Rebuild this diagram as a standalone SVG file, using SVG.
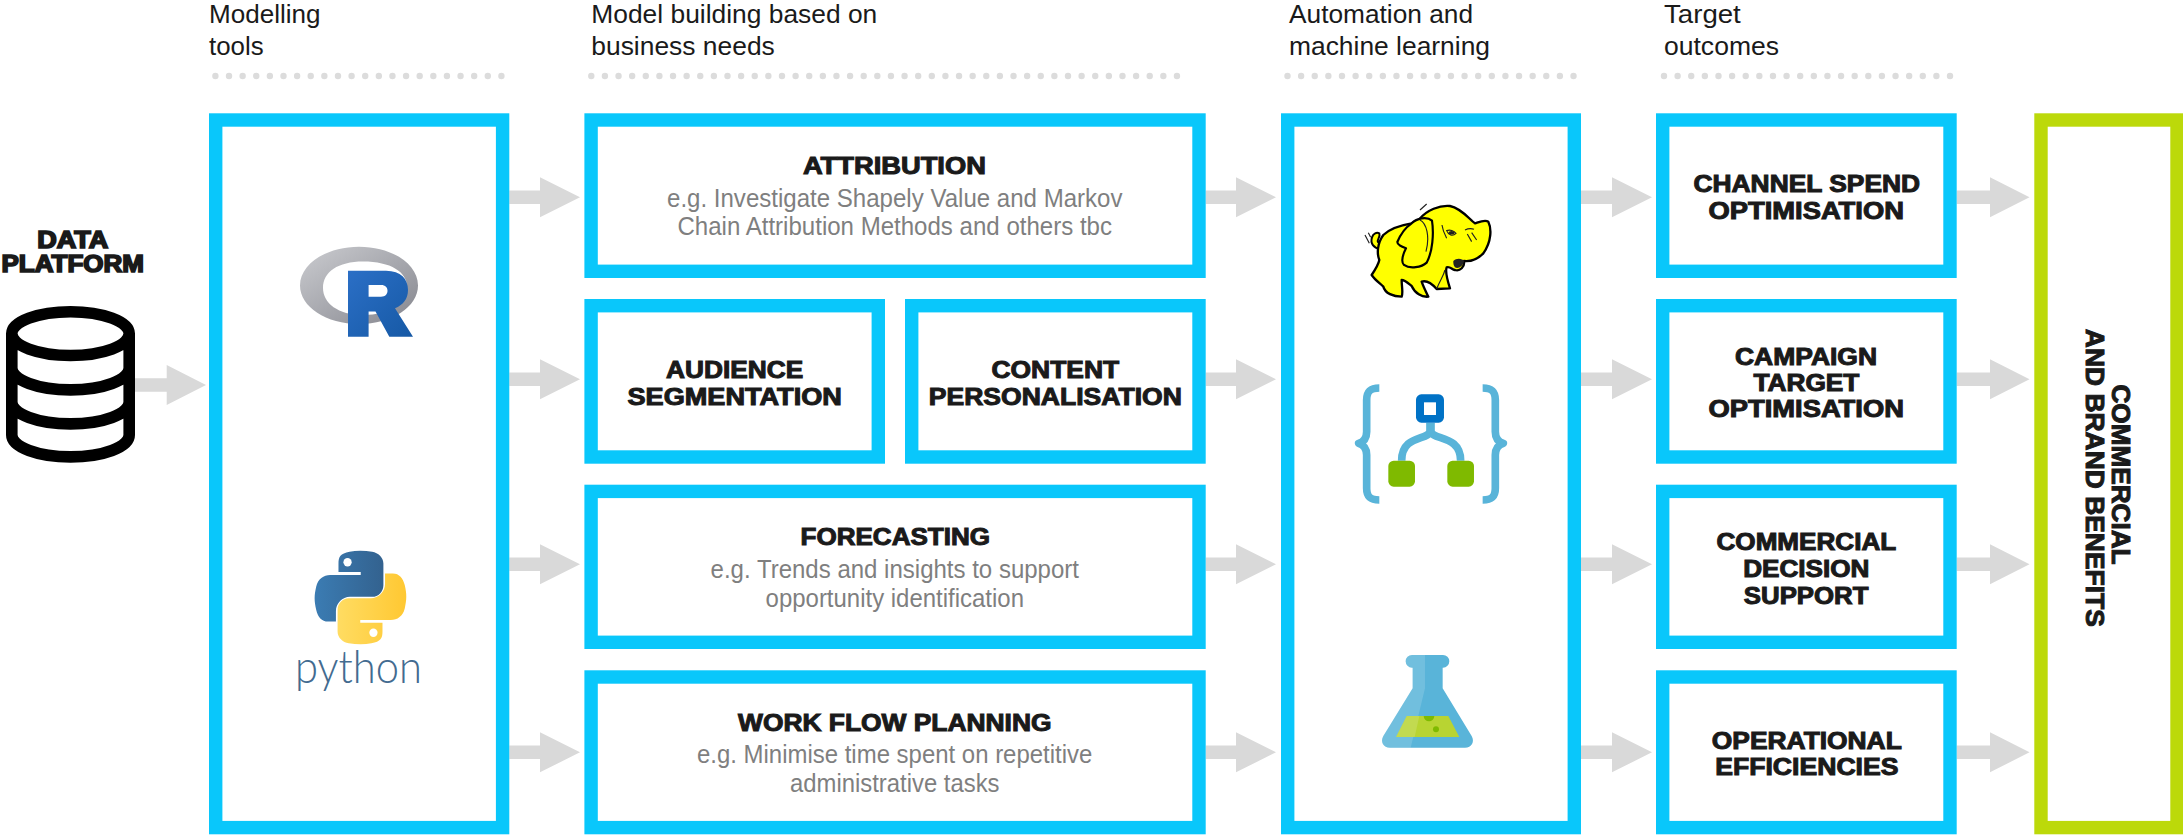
<svg xmlns="http://www.w3.org/2000/svg" width="2183" height="835" viewBox="0 0 2183 835">
<style>
text{font-family:"Liberation Sans",Arial,sans-serif}
.box{fill:#fff;stroke:#09c7fb;stroke-width:13.4}
.gbox{fill:#fff;stroke:#bcd90a;stroke-width:13.4}
.arrow{fill:#d9d9d9}
.dots{stroke:#dcdcdc;stroke-width:6.4;stroke-linecap:round;stroke-dasharray:0 13.62;fill:none}
.hd{font-size:26.5px;fill:#1a1a1a}
.t{font-size:23.2px;font-weight:700;fill:#1a1a1a;stroke:#1a1a1a;stroke-width:1}
.s{font-size:25px;fill:#7f7f7f}
</style>
<defs>
<linearGradient id="rg" x1="0" y1="0" x2="1" y2="1"><stop offset="0" stop-color="#cbccd0"/><stop offset="1" stop-color="#85868e"/></linearGradient>
<linearGradient id="rb" x1="0" y1="0" x2="1" y2="1"><stop offset="0" stop-color="#2b6fc6"/><stop offset="1" stop-color="#1659a5"/></linearGradient>
<linearGradient id="py" x1="0" y1="0" x2="1" y2="0"><stop offset="0" stop-color="#3b7cb3"/><stop offset="1" stop-color="#33628f"/></linearGradient>
<linearGradient id="pyy" x1="0" y1="0" x2="1" y2="0"><stop offset="0" stop-color="#ffc832"/><stop offset="1" stop-color="#ffdc62"/></linearGradient>
</defs>
<rect width="2183" height="835" fill="#fff"/>

<g id="headers">
<text class="hd" x="209" y="22.7" textLength="111.5" lengthAdjust="spacingAndGlyphs">Modelling</text>
<text class="hd" x="209" y="55" textLength="54.6" lengthAdjust="spacingAndGlyphs">tools</text>
<path class="dots" d="M215.4 76H502"/>
<text class="hd" x="591.3" y="22.7" textLength="286" lengthAdjust="spacingAndGlyphs">Model building based on</text>
<text class="hd" x="591.3" y="55" textLength="183.5" lengthAdjust="spacingAndGlyphs">business needs</text>
<path class="dots" d="M591.3 76H1190.5"/>
<text class="hd" x="1289" y="22.7" textLength="184" lengthAdjust="spacingAndGlyphs">Automation and</text>
<text class="hd" x="1289" y="55" textLength="201" lengthAdjust="spacingAndGlyphs">machine learning</text>
<path class="dots" d="M1287.5 76H1574"/>
<text class="hd" x="1664" y="22.7" textLength="76.8" lengthAdjust="spacingAndGlyphs">Target</text>
<text class="hd" x="1664" y="55" textLength="115" lengthAdjust="spacingAndGlyphs">outcomes</text>
<path class="dots" d="M1664 76H1950.5"/>
</g>

<g id="connectors">
<polygon class="arrow" points="135,378.3 166.7,378.3 166.7,365 206,385 166.7,405 166.7,391.7 135,391.7"/>
<polygon class="arrow" points="509.3,190.6 540,190.6 540,177.3 580,197.3 540,217.3 540,204 509.3,204"/>
<polygon class="arrow" points="509.3,372.6 540,372.6 540,359.3 580,379.3 540,399.3 540,386 509.3,386"/>
<polygon class="arrow" points="509.3,557.6 540,557.6 540,544.3 580,564.3 540,584.3 540,571 509.3,571"/>
<polygon class="arrow" points="509.3,745.6 540,745.6 540,732.3 580,752.3 540,772.3 540,759 509.3,759"/>
<polygon class="arrow" points="1205.7,190.6 1236,190.6 1236,177.3 1276,197.3 1236,217.3 1236,204 1205.7,204"/>
<polygon class="arrow" points="1205.7,372.6 1236,372.6 1236,359.3 1276,379.3 1236,399.3 1236,386 1205.7,386"/>
<polygon class="arrow" points="1205.7,557.6 1236,557.6 1236,544.3 1276,564.3 1236,584.3 1236,571 1205.7,571"/>
<polygon class="arrow" points="1205.7,745.6 1236,745.6 1236,732.3 1276,752.3 1236,772.3 1236,759 1205.7,759"/>
<polygon class="arrow" points="1581,190.6 1612,190.6 1612,177.3 1652,197.3 1612,217.3 1612,204 1581,204"/>
<polygon class="arrow" points="1581,372.6 1612,372.6 1612,359.3 1652,379.3 1612,399.3 1612,386 1581,386"/>
<polygon class="arrow" points="1581,557.6 1612,557.6 1612,544.3 1652,564.3 1612,584.3 1612,571 1581,571"/>
<polygon class="arrow" points="1581,745.6 1612,745.6 1612,732.3 1652,752.3 1612,772.3 1612,759 1581,759"/>
<polygon class="arrow" points="1956.7,190.6 1990,190.6 1990,177.3 2029.5,197.3 1990,217.3 1990,204 1956.7,204"/>
<polygon class="arrow" points="1956.7,372.6 1990,372.6 1990,359.3 2029.5,379.3 1990,399.3 1990,386 1956.7,386"/>
<polygon class="arrow" points="1956.7,557.6 1990,557.6 1990,544.3 2029.5,564.3 1990,584.3 1990,571 1956.7,571"/>
<polygon class="arrow" points="1956.7,745.6 1990,745.6 1990,732.3 2029.5,752.3 1990,772.3 1990,759 1956.7,759"/>
</g>

<g id="data-platform">
<text class="t" style="font-size:24px;stroke-width:1.7" x="37.300" y="247.800" textLength="71" lengthAdjust="spacingAndGlyphs">DATA</text>
<text class="t" style="font-size:24px;stroke-width:1.7" x="1.500" y="271.800" textLength="142.500" lengthAdjust="spacingAndGlyphs">PLATFORM</text>
<path d="M11.8 333.6V435A58.7 21.9 0 0 0 129.2 435V333.6M11.8 333.6A58.7 21.9 0 0 1 129.2 333.6A58.7 21.9 0 0 1 11.8 333.6ZM11.8 368A58.7 21.9 0 0 0 129.2 368M11.8 402A58.7 21.9 0 0 0 129.2 402" fill="none" stroke="#000" stroke-width="11.6"/>
</g>

<g id="modelling-tools">
<rect class="box" x="215.7" y="120" width="286.9" height="707.6"/>
<g id="r-logo">
<path fill-rule="evenodd" fill="url(#rg)" d="M359 246.7C326.4 246.7 300 264 300 285.4S326.4 324 359 324C392 324 418 306.800 418 285.4S392 246.700 359 246.700ZM363 261.500C391 261.500 407 272 407 287C407 303 390 315 363 315C338 315 323 303 323 288C323 272 338 261.500 363 261.500Z"/>
<path fill="url(#rb)" fill-rule="evenodd" d="M348 270.700H386C401 270.700 408 279 408 290C408 299 403 305 395 308.300L413 336.700H389.300L375.500 311.500H368.600V336.700H348ZM368.600 285V296.700H381C385.500 296.700 387.500 294 387.500 290.800C387.500 287.500 385.500 285 381 285Z"/>
</g>
<g id="python-logo">
<g transform="translate(315 550.7) scale(.824 .843)">
<path fill="url(#py)" d="M54.900 0C50.300 0 45.900.4 42 1.100 30.600 3.100 28.500 7.300 28.500 15.100V25.400H55.500V28.800H18.400C10.500 28.800 3.600 33.500 1.500 42.500-1 52.900-1.100 59.400 1.500 70.200 3.400 78.300 8.100 84 16 84H25.400V71.600C25.400 62.600 33.200 54.700 42.500 54.700H69.400C77 54.700 83 48.500 83 40.900V15.100C83 7.800 76.800 2.300 69.400 1.100 64.800.3 59.900 0 54.900 0Z"/>
<circle cx="39.500" cy="13.700" r="5" fill="#fff"/>
<g transform="rotate(180 55.200 55.500)">
<path fill="url(#pyy)" d="M54.900 0C50.300 0 45.900.4 42 1.100 30.600 3.100 28.500 7.300 28.500 15.100V25.400H55.500V28.800H18.400C10.500 28.800 3.600 33.500 1.500 42.500-1 52.900-1.100 59.400 1.500 70.200 3.400 78.300 8.100 84 16 84H25.400V71.600C25.400 62.600 33.200 54.700 42.500 54.700H69.400C77 54.700 83 48.500 83 40.900V15.100C83 7.800 76.800 2.300 69.400 1.100 64.800.3 59.900 0 54.900 0Z"/>
<circle cx="39.500" cy="13.700" r="5" fill="#fff"/>
</g>
</g>
<text x="295" y="683" textLength="127" lengthAdjust="spacingAndGlyphs" style="font-family:'Lato','Noto Sans',sans-serif;font-size:46px;font-weight:300;fill:#436b90">python</text>
</g>
</g>

<g id="attribution">
<rect class="box" x="591.100" y="120" width="607.900" height="151.300"/>
<text class="t" x="802.900" y="174.200" textLength="183" lengthAdjust="spacingAndGlyphs">ATTRIBUTION</text>
<text class="s" x="667" y="206.700" textLength="455.500" lengthAdjust="spacingAndGlyphs">e.g. Investigate Shapely Value and Markov</text>
<text class="s" x="677.500" y="234.700" textLength="434.500" lengthAdjust="spacingAndGlyphs">Chain Attribution Methods and others tbc</text>
</g>
<g id="audience-segmentation">
<rect class="box" x="591.100" y="305.700" width="287.200" height="151.300"/>
<text class="t" x="666.100" y="377.600" textLength="137.200" lengthAdjust="spacingAndGlyphs">AUDIENCE</text>
<text class="t" x="627.500" y="404.600" textLength="214.400" lengthAdjust="spacingAndGlyphs">SEGMENTATION</text>
</g>
<g id="content-personalisation">
<rect class="box" x="911.700" y="305.700" width="287.300" height="151.300"/>
<text class="t" x="991.500" y="377.600" textLength="127.600" lengthAdjust="spacingAndGlyphs">CONTENT</text>
<text class="t" x="928.800" y="404.600" textLength="253" lengthAdjust="spacingAndGlyphs">PERSONALISATION</text>
</g>
<g id="forecasting">
<rect class="box" x="591.100" y="491.400" width="607.900" height="150.900"/>
<text class="t" x="800.500" y="544.900" textLength="189.600" lengthAdjust="spacingAndGlyphs">FORECASTING</text>
<text class="s" x="710.600" y="577.700" textLength="368.400" lengthAdjust="spacingAndGlyphs">e.g. Trends and insights to support</text>
<text class="s" x="765.600" y="606.700" textLength="258.400" lengthAdjust="spacingAndGlyphs">opportunity identification</text>
</g>
<g id="work-flow-planning">
<rect class="box" x="591.100" y="677" width="607.900" height="150.600"/>
<text class="t" x="738" y="731.300" textLength="313.500" lengthAdjust="spacingAndGlyphs">WORK FLOW PLANNING</text>
<text class="s" x="697" y="763.300" textLength="395.300" lengthAdjust="spacingAndGlyphs">e.g. Minimise time spent on repetitive</text>
<text class="s" x="790" y="792" textLength="209.500" lengthAdjust="spacingAndGlyphs">administrative tasks</text>
</g>

<g id="automation">
<rect class="box" x="1287.700" y="120" width="286.600" height="707.600"/>
<g id="hadoop-logo" transform="translate(1280 180) scale(.3333)">
<path d="M298 205C282 205 270 190 276 172C280 160 290 156 298 160C302 172 290 178 294 186L308 190Z" fill="#ff0" stroke="#000" stroke-width="6" stroke-linejoin="round"/>
<path d="M418 118C440 90 480 75 510 78C545 85 570 120 585 130C600 125 615 118 625 125C635 145 635 185 610 220C590 240 570 245 552 243C555 260 540 275 525 270C515 268 510 258 500 262C495 275 502 300 510 325L470 327C455 310 440 300 425 305C430 320 440 340 445 350C425 352 405 340 395 318C385 310 375 300 365 300C365 320 370 340 365 350C340 350 315 340 310 320C300 310 285 300 275 285C285 270 295 255 298 240C290 220 292 190 310 165C330 145 365 135 395 130C403 125 410 122 418 118Z" fill="#ff0" stroke="#000" stroke-width="7" stroke-linejoin="round"/>
<path d="M395 130C410 115 440 108 456 122C462 160 458 215 440 248C425 262 390 268 372 255C362 245 368 225 378 205C365 200 352 195 352 186C365 155 380 140 395 130Z" fill="#ff0" stroke="#000" stroke-width="6.500" stroke-linejoin="round"/>
<path d="M520 243C530 232 548 236 552 243C550 258 535 268 525 262C520 256 520 250 520 243Z" fill="#222"/>
<path d="M500 152C510 148 522 152 528 160C518 170 505 165 500 152ZM486 135C488 150 492 160 500 175M555 150C565 145 575 145 582 148M562 162L575 185M575 158L590 180M420 120C440 130 450 170 438 215M470 327C480 300 490 290 495 270M255 165L268 190M265 158L272 172M420 90L440 72" fill="none" stroke="#222" stroke-width="3.500"/>
<ellipse cx="515" cy="158" rx="9" ry="5" fill="#222"/>
</g>
<g id="logic-apps-logo" transform="translate(1320 360) scale(.3333)">
<path d="M178 84C150 84 140 95 140 120V215C140 235 132 245 116 250C132 255 140 265 140 285V385C140 410 150 420 178 420M488 84C516 84 526 95 526 120V215C526 235 534 245 550 250C534 255 526 265 526 285V385C526 410 516 420 488 420M330 188V212C330 242 245 222 245 302M333 188V212C333 242 422 222 422 302" fill="none" stroke="#59b4d9" stroke-width="23" stroke-linejoin="round"/>
<rect x="288" y="103" width="84" height="85" rx="16" fill="#0072c6"/>
<rect x="312" y="127" width="36" height="38" fill="#fff"/>
<rect x="205" y="302" width="80" height="78" rx="16" fill="#7fba00"/>
<rect x="382" y="302" width="80" height="78" rx="16" fill="#7fba00"/>
</g>
<g id="flask-logo" transform="translate(1340 630) scale(.3333)">
<path d="M216 75H309A19 19 0 0 1 309 113H308V175L395 318C405 335 395 353 375 353H150C130 353 120 335 130 318L218 175V113H216A19 19 0 0 1 216 75Z" fill="#59b4d9"/>
<path d="M216 75H255V175L212 353H150C130 353 120 335 130 318L218 175V113H216A19 19 0 0 1 216 75Z" fill="#fff" fill-opacity=".15"/>
<path d="M200 258H325L358 321H168Z" fill="#b8d432"/>
<path d="M200 258H238L224 321H168Z" fill="#fff" fill-opacity=".15"/>
<path d="M251 258H283A16 16 0 1 1 251 258Z" fill="#7fba00"/>
<circle cx="288" cy="298" r="9" fill="#7fba00"/>
</g>
</g>

<g id="channel-spend">
<rect class="box" x="1662.700" y="120" width="287.300" height="151.300"/>
<text class="t" x="1693.500" y="192.300" textLength="226.600" lengthAdjust="spacingAndGlyphs">CHANNEL SPEND</text>
<text class="t" x="1708.500" y="218.600" textLength="195.400" lengthAdjust="spacingAndGlyphs">OPTIMISATION</text>
</g>
<g id="campaign-target">
<rect class="box" x="1662.700" y="305.700" width="287.300" height="151.300"/>
<text class="t" x="1735" y="364.600" textLength="142" lengthAdjust="spacingAndGlyphs">CAMPAIGN</text>
<text class="t" x="1753.400" y="391.300" textLength="106" lengthAdjust="spacingAndGlyphs">TARGET</text>
<text class="t" x="1708.500" y="417" textLength="195.400" lengthAdjust="spacingAndGlyphs">OPTIMISATION</text>
</g>
<g id="commercial-decision">
<rect class="box" x="1662.700" y="491.400" width="287.300" height="150.900"/>
<text class="t" x="1716.500" y="549.600" textLength="179.700" lengthAdjust="spacingAndGlyphs">COMMERCIAL</text>
<text class="t" x="1743.200" y="576.600" textLength="126.300" lengthAdjust="spacingAndGlyphs">DECISION</text>
<text class="t" x="1743.800" y="603.900" textLength="124.700" lengthAdjust="spacingAndGlyphs">SUPPORT</text>
</g>
<g id="operational">
<rect class="box" x="1662.700" y="677" width="287.300" height="150.600"/>
<text class="t" x="1711.800" y="748.600" textLength="190" lengthAdjust="spacingAndGlyphs">OPERATIONAL</text>
<text class="t" x="1715.200" y="775.300" textLength="183.300" lengthAdjust="spacingAndGlyphs">EFFICIENCIES</text>
</g>

<g id="benefits">
<rect class="gbox" x="2041" y="120" width="136" height="707.600"/>
<text class="t" transform="translate(2111.500 384.500) rotate(90)" textLength="180" lengthAdjust="spacingAndGlyphs" style="font-size:25px">COMMERCIAL</text>
<text class="t" transform="translate(2085.500 328.800) rotate(90)" textLength="298" lengthAdjust="spacingAndGlyphs" style="font-size:25px">AND BRAND BENEFITS</text>
</g>
</svg>
